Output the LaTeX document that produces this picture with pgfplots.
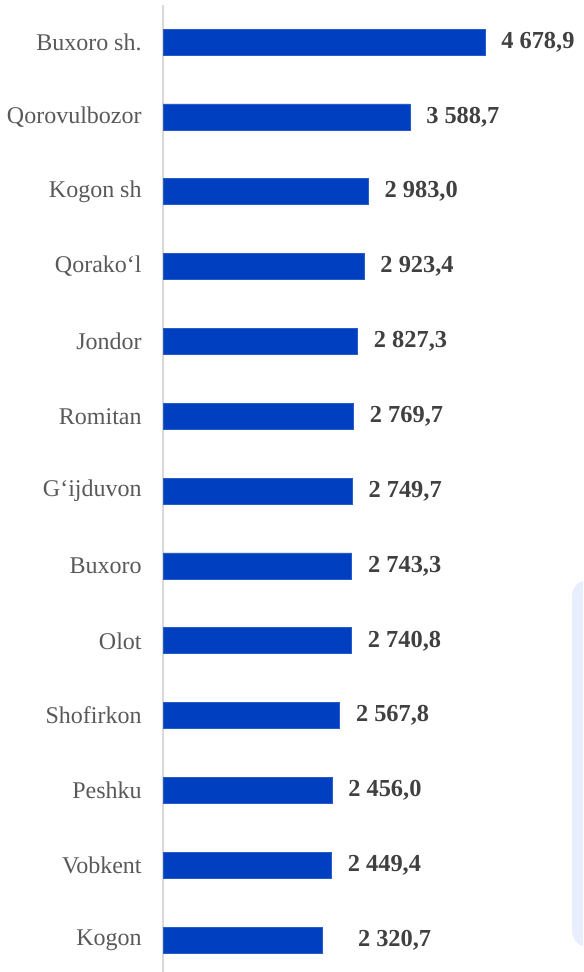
\documentclass[border=0pt]{standalone}
\usepackage{pgfplots}
\usepackage{pgfplotstable}
\pgfplotsset{compat=1.18}
\usepackage{fontspec}
\setmainfont{Liberation Serif}
\newfontfamily\lserif{Liberation Serif}
\definecolor{barblue}{HTML}{0040C0}
\definecolor{labgray}{HTML}{595959}
\definecolor{valgray}{HTML}{404040}
\definecolor{boxblue}{HTML}{E8EEFE}
\definecolor{axgray}{HTML}{D9D9D9}
\pgfplotstableread{
idx value shift
0 4678.9 8
1 3588.7 8
2 2983.0 8
3 2923.4 8
4 2827.3 8
5 2769.7 8
6 2749.7 8
7 2743.3 8
8 2740.8 8
9 2567.8 8
10 2456.0 8
11 2449.4 8
12 2320.7 17.5
}\datatable
\begin{document}
\begin{tikzpicture}
\useasboundingbox (0pt,0pt) rectangle (291.5pt,486pt);
\clip (0pt,0pt) rectangle (291.5pt,486pt);
\fill[boxblue, rounded corners=8pt] (286pt,12.5pt) rectangle (310pt,196pt);
\begin{axis}[
  at={(81.5pt,-2.8pt)}, anchor=south west,
  scale only axis, width=210pt, height=486.5pt,
  xmin=0, xmax=6103, ymin=-0.5, ymax=12.5,
  y dir=reverse,
  axis x line=none, axis y line*=left,
  y axis line style={axgray, line width=1pt},
  ytick={0,...,12},
  yticklabels={Buxoro sh., Qorovulbozor, Kogon sh, Qorako‘l, Jondor, Romitan, G‘ijduvon, Buxoro, Olot, Shofirkon, Peshku, Vobkent, Kogon},
  major tick length=0pt,
  yticklabel style={font=\lserif\fontsize{12}{14}\selectfont, text=labgray, inner sep=0pt, xshift=-10.5pt},
  xbar, bar width=13pt,
  point meta=x,
  nodes near coords={\pgfmathprintnumber[fixed,fixed zerofill,precision=1,use comma,1000 sep={\ },assume math mode=true]{\pgfplotspointmeta}},
  visualization depends on={\thisrow{shift}\as\myshift},
  every node near coord/.append style={font=\lserif\fontsize{12.2}{14}\selectfont\bfseries, text=valgray, anchor=west, inner sep=0pt, xshift=\myshift pt},
]
\addplot[fill=barblue, draw=barblue!85!white, line width=0.3pt] table[x=value, y=idx] {\datatable};
\end{axis}
\end{tikzpicture}
\end{document}
